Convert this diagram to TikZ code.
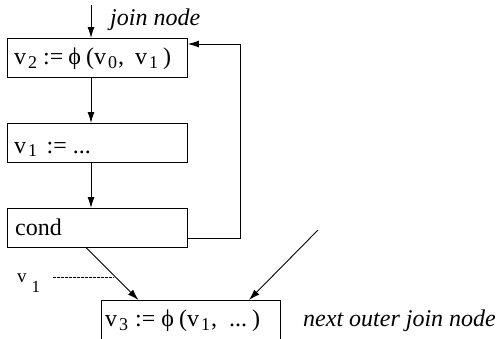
\documentclass[tikz,border=0pt]{standalone}
\usepackage{fontspec}
\setmainfont{Liberation Serif}
\usetikzlibrary{arrows.meta,calc}
\newcommand\mysub[1]{\kern2pt\raisebox{-3.5pt}{\fontsize{18}{18}\selectfont #1}\kern1pt}
\newcommand\mydots{.\kern0pt.\kern0pt.}
\begin{document}
\begin{tikzpicture}[x=1pt,y=-1pt,
  box/.style={draw,line width=0.9pt,rectangle,inner sep=0pt,minimum width=180pt,minimum height=39pt,anchor=north west},
  txt/.style={anchor=base west,inner sep=0pt,font=\fontsize{24}{28}\selectfont},
  itxt/.style={txt,font=\fontsize{24}{28}\selectfont\itshape},
  arr/.style={line width=0.9pt,-{Latex[length=11pt,width=7pt]}},
  ln/.style={line width=0.9pt}]
\clip (0,0) rectangle (504,338);
\fill[white] (0,0) rectangle (504,338);
% boxes
\node[box] (b1) at (7,38) {};
\node[box] (b2) at (7,123) {};
\node[box] (b3) at (7,208) {};
\node[box,minimum width=179pt,minimum height=60pt] (b4) at (101,300) {};
% texts
\node[itxt] (jn) at (110,25) {join node};
\node[txt] (t1) at (14,64.7) {v\mysub{2}\hspace{5pt}:=\hspace{5pt}ϕ\hspace{5pt}(v\mysub{0},\hspace{11pt}v\mysub{1}\kern4pt)};
\node[txt] (t2) at (14,153) {v\mysub{1}\hspace{8.5pt}:=\hspace{6pt}\mydots};
\node[txt] (t3) at (15,235.7) {cond};
\node[txt] (t4) at (105,326.7) {v\mysub{3}\hspace{6pt}:=\hspace{6pt}ϕ\hspace{5pt}(v\mysub{1},\hspace{12pt}\mydots\kern5pt)};
\node[itxt] (no) at (303,326.7) {next outer join node};
\node[anchor=base west,inner sep=0pt,font=\fontsize{19}{20}\selectfont] (lv) at (17,282.7) {v};
\node[anchor=base west,inner sep=0pt,font=\fontsize{17}{18}\selectfont] (l1) at (31.5,292) {1};
% coordinates
\coordinate (topin) at (91,5);
\coordinate (fbA) at (240,238);
\coordinate (fbB) at (240,44);
\coordinate (rin) at (318,230);
\coordinate (dsA) at (53,277);
\coordinate (dsB) at (114,277);
% connectors
\draw[arr] (topin) -- (topin |- b1.north);
\draw[arr] (topin |- b1.south) -- (topin |- b2.north);
\draw[arr] (topin |- b2.south) -- (topin |- b3.north);
\draw[arr] (b3.east |- fbA) -- (fbA) -- (fbB) -- (b1.east |- fbB);
\draw[arr] ([xshift=-11pt]b3.south) -- ([xshift=-52.5pt]b4.north);
\draw[arr] (rin) -- ([xshift=58pt]b4.north);
\draw[ln,dash pattern=on 2.5pt off 1.5pt] (dsA) -- (dsB);
\end{tikzpicture}
\end{document}
